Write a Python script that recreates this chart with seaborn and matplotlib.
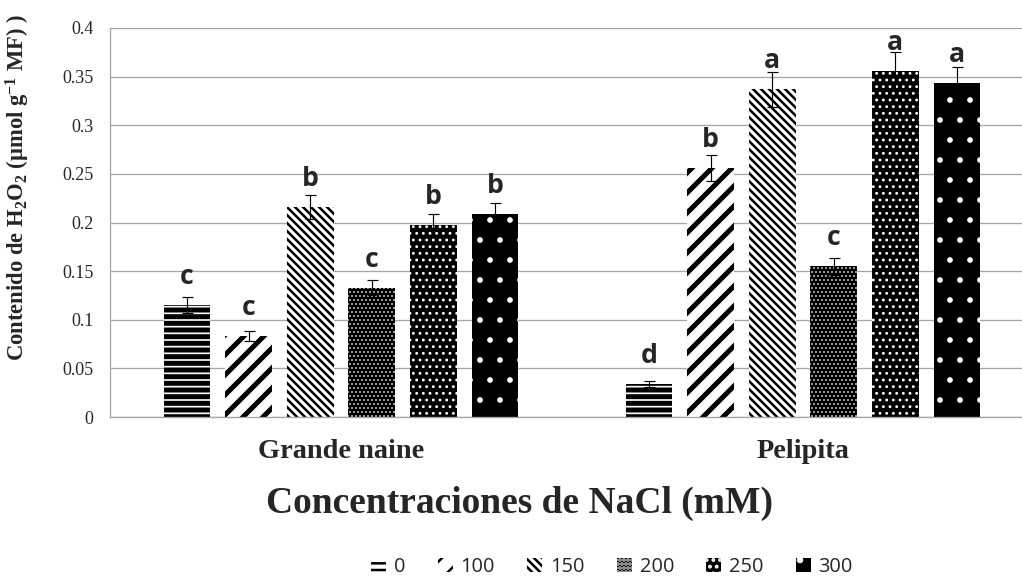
import matplotlib
matplotlib.use("Agg")
import matplotlib.pyplot as plt
from matplotlib.patches import Patch
from matplotlib.ticker import FuncFormatter, MultipleLocator
import seaborn as sns
import pandas as pd
import numpy as np

# data
cultivars = ["Grande naine", "Pelipita"]
concs = ["0", "100", "150", "200", "250", "300"]
gn_vals = [0.115, 0.083, 0.216, 0.133, 0.197, 0.209]
gn_errs = [0.008, 0.005, 0.012, 0.008, 0.012, 0.011]
gn_letters = ["c", "c", "b", "c", "b", "b"]
pel_vals = [0.034, 0.256, 0.337, 0.155, 0.356, 0.343]
pel_errs = [0.003, 0.013, 0.018, 0.009, 0.019, 0.017]
pel_letters = ["d", "b", "a", "c", "a", "a"]

df = pd.DataFrame({
    "cultivar": np.repeat(cultivars, len(concs)),
    "conc": concs * 2,
    "h2o2": gn_vals + pel_vals,
    "err": gn_errs + pel_errs,
    "letra": gn_letters + pel_letters,
})

# pattern fills: face, hatch colour, hatch, hatch linewidth
fills = {
    "0": ("white", "black", "---", 3.0),
    "100": ("white", "black", "//", 3.0),
    "150": ("white", "black", "\\" * 5, 1.5),
    "200": ("black", "white", ".....", 0.5),
    "250": ("black", "white", "...", 0.9),
    "300": ("black", "white", ".", 1.0),
}

sns.set_style("white")
plt.rcParams["font.family"] = ["Liberation Serif", "DejaVu Sans"]
plt.rcParams["mathtext.fontset"] = "custom"
plt.rcParams["mathtext.rm"] = "Liberation Serif:bold"
plt.rcParams["mathtext.it"] = "Liberation Serif:bold"
plt.rcParams["mathtext.bf"] = "Liberation Serif:bold"
plt.rcParams["hatch.linewidth"] = 1.5

W, H, DPI = 1022, 581, 120
fig = plt.figure(figsize=(W / DPI, H / DPI), dpi=DPI)
ax = fig.add_axes([110 / W, (H - 417) / H, 924 / W, 389 / H])

sns.barplot(data=df, x="cultivar", y="h2o2", hue="conc", order=cultivars,
            hue_order=concs, palette=["white"] * len(concs), errorbar=None,
            width=0.8, gap=0.24, legend=False, ax=ax)


def style_patch(p, conc):
    fc, hc, hatch, hlw = fills[conc]
    p.set_facecolor(fc)
    p.set_edgecolor(hc)
    p.set_hatch(hatch)
    p.set_linewidth(0)
    if hasattr(p, "set_hatch_linewidth"):
        p.set_hatch_linewidth(hlw)


for conc, cont in zip(concs, ax.containers):
    for p in cont.patches:
        style_patch(p, conc)
        xc = p.get_x() + p.get_width() / 2
        h = p.get_height()
        row = df[(df["cultivar"] == cultivars[int(round(xc))]) & (df["conc"] == conc)].iloc[0]
        ax.errorbar(xc, h, yerr=row["err"], fmt="none", ecolor="black",
                    elinewidth=0.7, capsize=3.3, capthick=0.7, zorder=4)
        ax.annotate(row["letra"], (xc, h), xytext=(0, 12.6), textcoords="offset points",
                    ha="center", va="baseline", fontsize=16, fontweight="bold",
                    family=["Open Sans", "DejaVu Sans"])

ax.set_xlim(-0.5, 1.5)
ax.set_ylim(0, 0.4)
ax.yaxis.set_major_locator(MultipleLocator(0.05))
ax.yaxis.set_major_formatter(FuncFormatter(lambda v, pos: f"{v:.2f}".rstrip("0").rstrip(".")))
ax.yaxis.grid(True, color="#a6a6a6", lw=0.8)
ax.set_axisbelow(True)
for s in ["top", "right"]:
    ax.spines[s].set_visible(False)
for s in ["left", "bottom"]:
    ax.spines[s].set_color("#a6a6a6")
    ax.spines[s].set_linewidth(0.8)
ax.tick_params(axis="both", length=0)
ax.tick_params(axis="y", labelsize=10.8, pad=10)
ax.tick_params(axis="x", labelsize=17, pad=13)
for lab in ax.get_xticklabels():
    lab.set_fontweight("bold")
ax.set_xlabel("")
ax.set_ylabel("")

fig.text(18 / W, 1 - 188 / H, r"Contenido de H$_2$O$_2$ (µmol g$^{-1}$ MF) )",
         rotation=90, ha="center", va="center", fontsize=13.6, fontweight="bold")
fig.text(520 / W, 1 - 503 / H, "Concentraciones de NaCl (mM)",
         ha="center", va="center", fontsize=22.5, fontweight="bold")

handles = []
for conc in concs:
    fc, hc, hatch, hlw = fills[conc]
    hp = Patch(facecolor=fc, edgecolor=hc, hatch=hatch, lw=0, label=conc)
    if hasattr(hp, "set_hatch_linewidth"):
        hp.set_hatch_linewidth(hlw)
    handles.append(hp)
fig.legend(handles=handles, loc="center", bbox_to_anchor=(612 / W, 1 - 567 / H),
           ncol=6, frameon=False, prop={"family": ["Open Sans", "DejaVu Sans"], "size": 12},
           handlelength=0.75, handleheight=0.75, handletextpad=0.4, columnspacing=1.6)

fig.savefig("out.png", dpi=DPI)
